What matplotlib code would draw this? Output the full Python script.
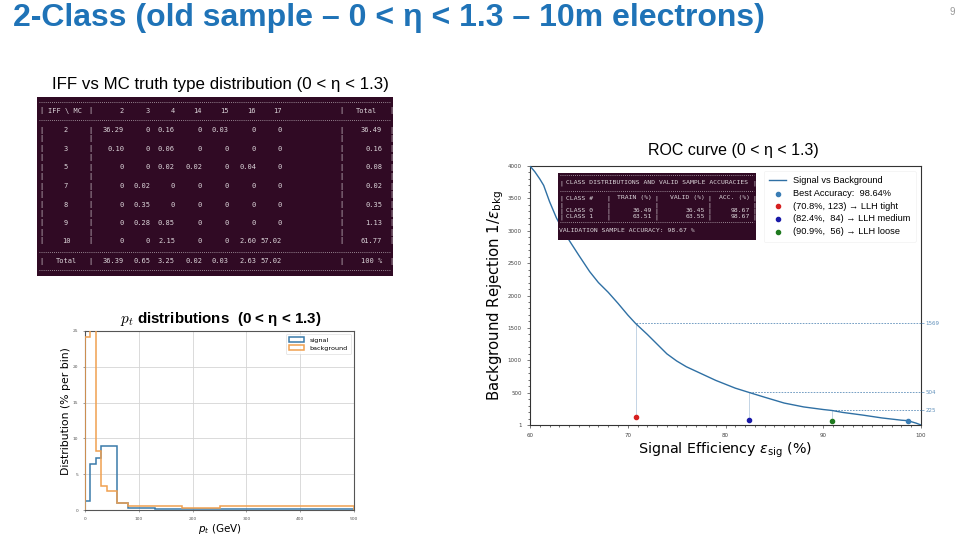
import numpy as np
import matplotlib
matplotlib.use("Agg")
import matplotlib.pyplot as plt
from matplotlib.lines import Line2D
from matplotlib.ticker import MultipleLocator

# ---- données ----
slide_title = "2-Class (old sample – 0 < η < 1.3 – 10m electrons)"
table_title = "IFF vs MC truth type distribution (0 < η < 1.3)"
roc_title = "ROC curve (0 < η < 1.3)"

# tableau IFF vs MC
mc_types = ["2", "3", "4", "14", "15", "16", "17"]
iff_types = ["2", "3", "5", "7", "8", "9", "10"]
iff_mc = [
    [36.29, 0, 0.16, 0, 0.03, 0, 0],
    [0.10, 0, 0.06, 0, 0, 0, 0],
    [0, 0, 0.02, 0.02, 0, 0.04, 0],
    [0, 0.02, 0, 0, 0, 0, 0],
    [0, 0.35, 0, 0, 0, 0, 0],
    [0, 0.28, 0.85, 0, 0, 0, 0],
    [0, 0, 2.15, 0, 0, 2.60, 57.02],
]
iff_totals = [36.49, 0.16, 0.08, 0.02, 0.35, 1.13, 61.77]
mc_totals = [36.39, 0.65, 3.25, 0.02, 0.03, 2.63, 57.02]

# courbe ROC
roc_eff = [60, 60.5, 61, 61.4, 62, 62.7, 63.4, 64.1, 65, 66.1, 67, 68, 69, 70, 70.8,
           72, 73, 74, 75, 76, 77, 78, 79, 80, 81, 82.4, 84, 86, 88, 90, 90.9,
           92, 94, 96, 98, 98.64, 99.5, 100]
roc_rej = [4000, 3910, 3800, 3700, 3450, 3200, 3000, 2830, 2620, 2370, 2200, 2050, 1880, 1700, 1569,
           1400, 1250, 1100, 990, 900, 830, 760, 690, 630, 570, 504, 430, 340, 280, 240, 225,
           195, 155, 110, 75, 68, 30, 1]
best_acc = 98.64
best_point = (98.64, 68)
wp_names = ["LLH tight", "LLH medium", "LLH loose"]
wp_eff = [70.8, 82.4, 90.9]
wp_llh_rej = [123, 84, 56]
wp_nn_rej = [1569, 504, 225]

# tableau incrusté (classes)
class_names = ["CLASS 0", "CLASS 1"]
train_pct = [36.49, 63.51]
valid_pct = [36.45, 63.55]
acc_pct = [98.67, 98.67]
valid_acc = 98.67

# distributions pt
pt_edges = [0, 10, 20, 30, 40, 60, 80, 130, 180, 250, 500]
pt_signal = [1.2, 6.4, 7.3, 8.9, 8.9, 1.0, 0.25, 0.1, 0.1, 0.1]
pt_background = [24.1, 25.5, 8.2, 3.4, 2.6, 1.0, 0.5, 0.5, 0.3, 0.6]

W, H = 960, 540
def px(x, y):
    return x / W, 1 - y / H

def box(l, t, r, b):
    return [l / W, 1 - b / H, (r - l) / W, (b - t) / H]

SANS = ["Liberation Sans", "DejaVu Sans"]
MONO = "DejaVu Sans Mono"
TERM_BG = "#300a24"
TERM_FG = "#dcd6da"

fig = plt.figure(figsize=(9.6, 5.4), dpi=100)

# titre et textes de la diapo
fig.text(*px(13, 18), slide_title, family=SANS, fontsize=23, fontweight="bold",
         color="#1f73b7", va="center", ha="left")
fig.text(*px(950, 12), "9", family=SANS, fontsize=7, color="#999999", va="center")
fig.text(*px(52, 84), table_title, family=SANS, fontsize=12.2, color="black", va="center")
fig.text(*px(733, 151), roc_title, family=SANS, fontsize=11.5, color="black",
         va="center", ha="center")

# ---- tableau IFF vs MC (capture de terminal) ----
tab = fig.add_axes(box(37, 97, 393, 276))
tab.set_facecolor(TERM_BG)
tab.set_xticks([]); tab.set_yticks([])
for s in tab.spines.values():
    s.set_visible(False)

def tline(y, x0=39, x1=391):
    fig.add_artist(Line2D([x0 / W, x1 / W], [1 - y / H] * 2, color=TERM_FG, lw=0.6,
                          linestyle=(0, (1, 1.5)), alpha=0.8))

def ttext(x, y, s, ha="right", size=5.0):
    fig.text(*px(x, y), s, family=MONO, fontsize=size, color=TERM_FG, ha=ha, va="center")

col_right = [124, 150, 175, 202, 229, 256, 282]
bar_x = [41, 90, 341, 391]
for y in [102, 120, 252, 270]:
    tline(y)
ttext(65, 111, "IFF \\ MC", ha="center")
for cx, m in zip(col_right, mc_types):
    ttext(cx, 111, m)
ttext(366, 111, "Total", ha="center")
row_y = [130, 149, 167.5, 186, 204.5, 223, 241]
for i, (y, iff) in enumerate(zip(row_y, iff_types)):
    ttext(66, y, iff, ha="center")
    for cx, v in zip(col_right, iff_mc[i]):
        ttext(cx, y, "0" if v == 0 else f"{v:.2f}")
    ttext(382, y, f"{iff_totals[i]:.2f}")
ttext(66, 261, "Total", ha="center")
for cx, v in zip(col_right, mc_totals):
    ttext(cx, 261, f"{v:.2f}")
ttext(382, 261, "100 %")
for bx in bar_x:
    for y in [111] + row_y + [r + 9 for r in row_y[:-1]] + [261]:
        ttext(bx, y, "|", ha="center")

# ---- courbe ROC ----
ax = fig.add_axes(box(530, 166, 921, 425))
ax.plot(roc_eff, roc_rej, color="#2f70a4", lw=1.0, label="Signal vs Background", zorder=3)
ax.scatter([best_point[0]], [best_point[1]], s=9, color="#3a7db5", zorder=4,
           label=f"Best Accuracy:  {best_acc:.2f}%")
wp_colors = ["#d62020", "#1a1aa8", "#1f7a1f"]
for e, llh, nn, name, c in zip(wp_eff, wp_llh_rej, wp_nn_rej, wp_names, wp_colors):
    ax.scatter([e], [llh], s=9, color=c, zorder=4, label=f"({e:.1f}%, {llh:3d}) → {name}")
    ax.hlines(nn, e, 100, colors="#5f8fba", lw=0.6, linestyles=(0, (2, 1.5)), zorder=2)
    ax.vlines(e, llh, nn, colors="#b9cde0", lw=0.6, zorder=2)
ax.set_xlim(60, 100)
ax.set_ylim(1, 4000)
ax.set_xticks([60, 70, 80, 90, 100])
ax.set_yticks([1] + list(range(500, 4001, 500)))
ax.xaxis.set_minor_locator(MultipleLocator(1))
ax.yaxis.set_minor_locator(MultipleLocator(100))
ax.tick_params(labelsize=4, colors="#444444", length=2.5, width=0.5)
ax.tick_params(which="minor", length=1.5, width=0.4)
for s in ax.spines.values():
    s.set_color("#333333"); s.set_linewidth(0.8)
ax.set_xlabel(r"Signal Efficiency $\varepsilon_{\rm sig}$ (%)", fontsize=10.3, labelpad=2)
ax.set_ylabel(r"Background Rejection $1/\varepsilon_{\rm bkg}$", fontsize=10.7, labelpad=1)
leg = ax.legend(loc="upper right", frameon=True, borderpad=0.6, handlelength=1.8,
                labelspacing=0.4, prop={"family": SANS, "size": 6.7})
leg.get_frame().set_edgecolor("#eeeeee")
leg.get_frame().set_linewidth(0.5)
ax2r = ax.twinx()
ax2r.set_ylim(ax.get_ylim())
ax2r.set_yticks(wp_nn_rej)
ax2r.set_yticklabels([str(v) for v in wp_nn_rej])
ax2r.tick_params(labelsize=4, colors="#5f8fba", length=2, width=0.5, pad=1)
for s in ax2r.spines.values():
    s.set_visible(False)

# tableau incrusté dans la ROC
ins = fig.add_axes(box(558, 173, 756, 240))
ins.set_facecolor(TERM_BG)
ins.set_xticks([]); ins.set_yticks([])
for s in ins.spines.values():
    s.set_visible(False)
for y in [175, 191, 222]:
    tline(y, 560, 754)
FS = 4.6
ttext(566, 183, "CLASS DISTRIBUTIONS AND VALID SAMPLE ACCURACIES", ha="left", size=FS)
ttext(566, 198, "CLASS #", ha="left", size=FS)
ttext(652, 198, "TRAIN (%)", ha="right", size=FS)
ttext(705, 198, "VALID (%)", ha="right", size=FS)
ttext(750, 198, "ACC. (%)", ha="right", size=FS)
for i, (cn, tr, va, ac) in enumerate(zip(class_names, train_pct, valid_pct, acc_pct)):
    y = 211 + 6 * i
    ttext(566, y, cn, ha="left", size=FS)
    ttext(652, y, f"{tr:.2f}", size=FS)
    ttext(705, y, f"{va:.2f}", size=FS)
    ttext(750, y, f"{ac:.2f}", size=FS)
for bx in [561, 608, 656, 709, 754]:
    for y in [198, 205, 211, 217]:
        ttext(bx, y, "|", ha="center", size=FS)
ttext(561, 183, "|", ha="center", size=FS)
ttext(754, 183, "|", ha="center", size=FS)
ttext(559, 230, f"VALIDATION SAMPLE ACCURACY: {valid_acc:.2f} %", ha="left", size=FS)

# ---- distributions pt ----
axp = fig.add_axes(box(85, 331, 354, 510))
axp.hist(pt_edges[:-1], bins=pt_edges, weights=pt_signal, histtype="step",
         color="#3a7aaa", lw=1.1, label="signal", zorder=3)
axp.hist(pt_edges[:-1], bins=pt_edges, weights=pt_background, histtype="step",
         color="#f0a050", lw=1.1, label="background", zorder=3)
axp.set_xlim(0, 500)
axp.set_ylim(0, 25)
axp.set_xticks([0, 100, 200, 300, 400, 500])
axp.set_yticks([0, 5, 10, 15, 20, 25])
axp.grid(True, color="#d4d4d4", lw=0.6)
axp.tick_params(labelsize=3.2, colors="#555555", length=1.5, width=0.4)
for s in axp.spines.values():
    s.set_color("#555555"); s.set_linewidth(0.8)
axp.set_xlabel(r"$p_t$ (GeV)", fontsize=7.5, labelpad=1)
axp.set_ylabel("Distribution (% per bin)", fontsize=7.8)
axp.yaxis.set_label_coords(-0.052, 0.55)
lp = axp.legend(loc="upper right", fontsize=4.6, handlelength=2.4, borderpad=0.5,
                labelspacing=0.4)
lp.get_frame().set_linewidth(0.4)
fig.text(*px(221, 319), r"$\boldsymbol{p_t}$ distributions  (0 < η < 1.3)", family=SANS,
         fontsize=10.9, fontweight="bold", ha="center", va="center", math_fontfamily="cm")

fig.savefig("out.png", dpi=100)
